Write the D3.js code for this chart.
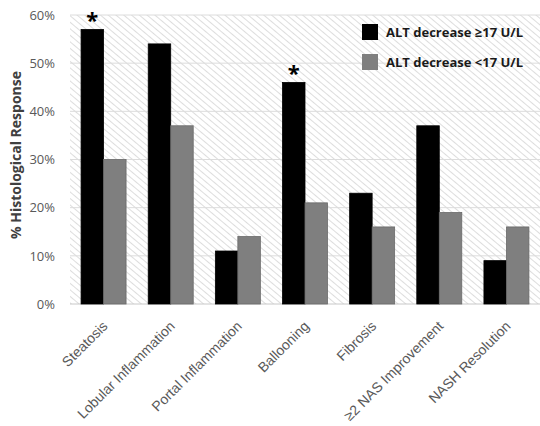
<!DOCTYPE html>
<html>
<head>
<meta charset="utf-8">
<script src="https://cdn.jsdelivr.net/npm/d3@7"></script>
<style>
  body { margin: 0; background: #fff; }
  svg { font-family: "Open Sans", "Liberation Sans", sans-serif; }
</style>
</head>
<body>
<div id="chart"></div>
<script>
const categories = ["Steatosis", "Lobular Inflammation", "Portal Inflammation", "Ballooning", "Fibrosis", "\u22652 NAS Improvement", "NASH Resolution"];
const seriesNames = ["ALT decrease \u226517 U/L", "ALT decrease <17 U/L"];
const altHigh = [57, 54, 11, 46, 23, 37, 9];
const altLow = [30, 37, 14, 21, 16, 19, 16];
const significant = ["Steatosis", "Ballooning"];
const yTicks = [0, 10, 20, 30, 40, 50, 60];
const colors = ["#000000", "#7f7f7f"];

const width = 540, height = 426;
const margin = {top: 15, right: 0, bottom: 122, left: 70};
const innerW = width - margin.left - margin.right,
      innerH = height - margin.top - margin.bottom;

const svg = d3.select("#chart").append("svg")
    .attr("width", width)
    .attr("height", height);

// diagonal hatch for plot background
const defs = svg.append("defs");
defs.append("pattern")
    .attr("id", "hatch")
    .attr("patternUnits", "userSpaceOnUse")
    .attr("width", 5).attr("height", 5)
    .attr("patternTransform", "rotate(40)")
    .append("line")
    .attr("x1", 0).attr("y1", 0).attr("x2", 5).attr("y2", 0)
    .attr("stroke", "#d2d2d2").attr("stroke-width", 1.5);

const g = svg.append("g").attr("transform", `translate(${margin.left},${margin.top})`);

g.append("rect")
    .attr("width", innerW).attr("height", innerH)
    .attr("fill", "url(#hatch)");

const x = d3.scaleBand().domain(categories).range([0, innerW]).paddingInner(0.33).paddingOuter(0.165);
const x1 = d3.scaleBand().domain([0, 1]).range([0, x.bandwidth()]);
const y = d3.scaleLinear().domain([0, 60]).range([innerH, 0]);

// gridlines
g.selectAll(".grid").data(yTicks).enter().append("line")
    .attr("x1", 0).attr("x2", innerW)
    .attr("y1", d => y(d)).attr("y2", d => y(d))
    .attr("stroke", d => d === 0 ? "#c8c8c8" : "#dcdcdc")
    .attr("stroke-width", 1);

// y axis labels
const yAxis = g.append("g")
    .call(d3.axisLeft(y).tickValues(yTicks).tickFormat(d => d + "%").tickSize(0).tickPadding(15));
yAxis.select(".domain").remove();
yAxis.selectAll("text").attr("font-size", 13).attr("fill", "#595959")
    .attr("font-family", "Open Sans, sans-serif");

// bars
const data = categories.map((c, i) => ({cat: c, vals: [altHigh[i], altLow[i]]}));
const groups = g.selectAll(".grp").data(data).enter().append("g")
    .attr("transform", d => `translate(${x(d.cat)},0)`);
groups.selectAll("rect").data(d => d.vals).enter().append("rect")
    .attr("x", (d, i) => x1(i))
    .attr("width", x1.bandwidth())
    .attr("y", d => y(d))
    .attr("height", d => innerH - y(d))
    .attr("fill", (d, i) => colors[i])
    .attr("stroke", (d, i) => i === 0 ? "#000" : "#6a6a6a")
    .attr("stroke-width", 0.8);

// asterisks
g.selectAll(".star").data(data.filter(d => significant.includes(d.cat))).enter().append("text")
    .attr("x", d => x(d.cat) + x1(0) + x1.bandwidth() / 2)
    .attr("y", d => y(d.vals[0]) - 1)
    .attr("text-anchor", "middle")
    .attr("font-size", 22)
    .attr("font-weight", "bold")
    .attr("fill", "#000")
    .text("*");

// x axis labels, rotated
const xAxis = g.append("g")
    .attr("transform", `translate(0,${innerH})`)
    .call(d3.axisBottom(x).tickSize(0).tickPadding(0));
xAxis.select(".domain").remove();
xAxis.selectAll("text")
    .attr("font-size", 14)
    .attr("fill", "#595959")
    .attr("text-anchor", "end")
    .attr("dy", 0)
    .attr("transform", "translate(5,23) rotate(-45)");

// y title
svg.append("text")
    .attr("transform", "translate(21,155) rotate(-90)")
    .attr("text-anchor", "middle")
    .attr("font-size", 14)
    .attr("font-weight", "bold")
    .attr("fill", "#404040")
    .text("% Histological Response");

// legend
const legend = svg.append("g").attr("transform", "translate(362,24)");
seriesNames.forEach((name, i) => {
  const row = legend.append("g").attr("transform", `translate(0,${i * 30})`);
  row.append("rect").attr("width", 16).attr("height", 16).attr("fill", colors[i]);
  row.append("text")
      .attr("x", 24).attr("y", 13)
      .attr("font-size", 13)
      .attr("font-weight", "bold")
      .attr("fill", "#1a1a1a")
      .text(name);
});
</script>
</body>
</html>
